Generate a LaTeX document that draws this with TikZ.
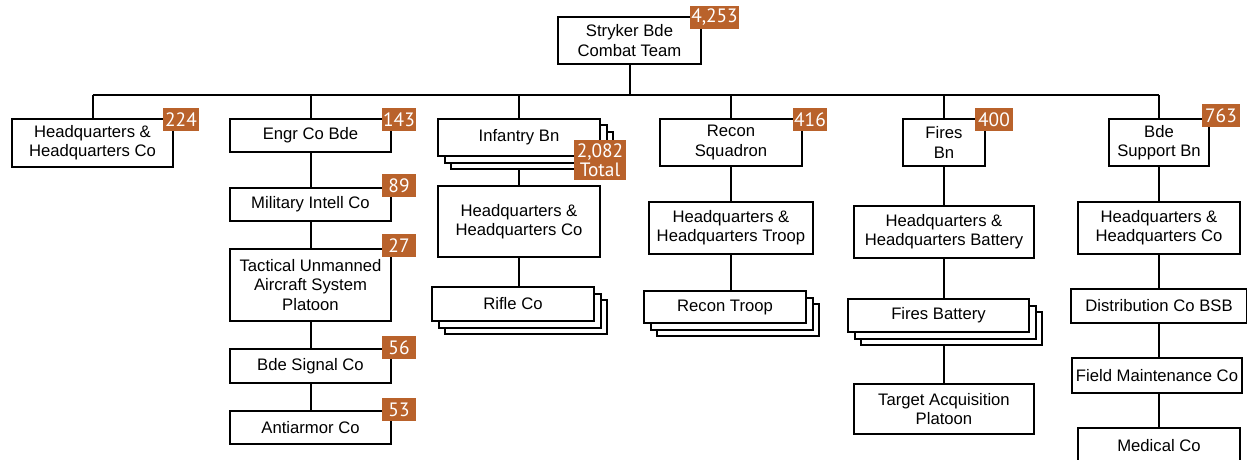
\documentclass[tikz,border=0pt]{standalone}
\usepackage{fontspec}
\setmainfont{Liberation Sans}
\newfontfamily\badgefont{PT Sans}
\usetikzlibrary{backgrounds}
\definecolor{badgecol}{RGB}{185,98,43}
\tikzset{
  box/.style={draw=black, line width=1.5pt, fill=white, align=center, inner sep=0pt,
    font=\fontsize{12.5}{14.5}\selectfont},
  badge/.style={fill=badgecol, text=white, align=center, inner sep=0pt,
    font=\badgefont\fontsize{14.5}{14.5}\selectfont},
  conn/.style={draw=black, line width=1.5pt}
}
\newcommand{\orgbox}[6]{%
  \node[box, minimum width={(#4-#2)*0.75pt}, minimum height={(#5-#3)*0.75pt}]
    (#1) at ({(#2+#4)/2},{(#3+#5)/2}) {#6};}
\newcommand{\stackbox}[6]{%
  \node[box, minimum width={(#4-#2)*0.75pt}, minimum height={(#5-#3)*0.75pt}]
    (#1-b) at ({(#2+#4)/2+13},{(#3+#5)/2+13}) {};
  \node[box, minimum width={(#4-#2)*0.75pt}, minimum height={(#5-#3)*0.75pt}]
    (#1-a) at ({(#2+#4)/2+6.5},{(#3+#5)/2+6.5}) {};
  \orgbox{#1}{#2}{#3}{#4}{#5}{#6}}
\newcommand{\badge}[6]{%
  \node[badge, minimum width={(#4-#2)*0.75pt}, minimum height={(#5-#3)*0.75pt}]
    (#1) at ({(#2+#4)/2},{(#3+#5)/2}) {#6};}
\begin{document}
\begin{tikzpicture}[x=0.75pt, y=-0.75pt]
\useasboundingbox (0,0) rectangle (1247,460);
\clip (0,0) rectangle (1247,460);
% top
\orgbox{top}{558}{17}{701}{64}{Stryker Bde\\Combat Team}
% column 1
\orgbox{hq}{12}{119}{173}{167}{Headquarters \&\\Headquarters Co}
% column 2
\orgbox{engr}{230}{119}{391}{152}{Engr Co Bde}
\orgbox{mi}{230}{188}{391}{221}{Military Intell Co}
\orgbox{tuas}{230}{249}{391}{321}{Tactical Unmanned\\Aircraft System\\Platoon}
\orgbox{sig}{230}{349}{391}{383}{Bde Signal Co}
\orgbox{aa}{230}{411}{391}{444}{Antiarmor Co}
% column 3
\stackbox{inf}{438}{119}{600}{156}{Infantry Bn}
\orgbox{infhq}{438}{186}{600}{257}{Headquarters \&\\Headquarters Co}
\stackbox{rifle}{432}{287}{594}{321}{Rifle Co}
% column 4
\orgbox{rsq}{660}{119}{802}{166}{Recon\\Squadron}
\orgbox{rhq}{649}{202}{813}{254}{Headquarters \&\\Headquarters Troop}
\stackbox{rtr}{644}{291}{806}{323}{Recon Troop}
% column 5
\orgbox{fbn}{903}{119}{985}{166}{Fires\\Bn}
\orgbox{fhq}{854}{206}{1034}{258}{Headquarters \&\\Headquarters Battery}
\stackbox{fbat}{848}{299}{1029}{332}{Fires Battery}
\orgbox{tap}{854}{384}{1034}{434}{Target Acquisition\\Platoon}
% column 6
\orgbox{bsb}{1109}{119}{1209}{166}{Bde\\Support Bn}
\orgbox{bhq}{1078}{202}{1240}{254}{Headquarters \&\\Headquarters Co}
\orgbox{dist}{1071}{289}{1247}{323}{Distribution Co BSB}
\orgbox{fmc}{1072}{358}{1242}{393}{Field Maintenance Co}
\orgbox{med}{1078}{428}{1240}{463}{Medical Co}
% badges
\badge{b-top}{690}{6}{739}{29}{4,253}
\badge{b-hq}{163}{108}{199}{131}{224}
\badge{b-engr}{382}{108}{416}{131}{143}
\badge{b-mi}{382}{174}{416}{197}{89}
\badge{b-tuas}{382}{234}{416}{257}{27}
\badge{b-sig}{382}{336}{416}{359}{56}
\badge{b-aa}{382}{398}{416}{421}{53}
\badge{b-inf}{574}{140}{626}{180}{2,082\\Total}
\badge{b-rsq}{793}{108}{827}{131}{416}
\badge{b-fbn}{975}{108}{1013}{131}{400}
\badge{b-bsb}{1202}{104}{1240}{127}{763}
% connectors
\begin{pgfonlayer}{background}
\coordinate (bus) at (629,95.5);
\draw[conn] (top.south) -- (top.south |- bus);
\draw[conn] (hq.north |- bus) -- (bsb.north |- bus);
\foreach \n in {hq,engr,inf,rsq,fbn,bsb}{
  \draw[conn] (\n.north) -- (\n.north |- bus);
}
\draw[conn] (engr.south) -- (mi.north);
\draw[conn] (mi.south) -- (tuas.north);
\draw[conn] (tuas.south) -- (sig.north);
\draw[conn] (sig.south) -- (aa.north);
\draw[conn] (inf.south) -- (infhq.north);
\draw[conn] (infhq.south) -- (infhq.south |- rifle.north);
\draw[conn] (rsq.south) -- (rhq.north);
\draw[conn] (rhq.south) -- (rhq.south |- rtr.north);
\draw[conn] (fbn.south -| fhq.north) -- (fhq.north);
\draw[conn] (fhq.south) -- (fhq.south |- fbat.north);
\draw[conn] (tap.north) -- (tap.north |- fbat.south);
\draw[conn] (bsb.south) -- (bhq.north);
\draw[conn] (bhq.south) -- (dist.north);
\draw[conn] (dist.south) -- (dist.south |- fmc.north);
\draw[conn] (fmc.south -| med.north) -- (med.north);
\end{pgfonlayer}
\end{tikzpicture}
\end{document}
